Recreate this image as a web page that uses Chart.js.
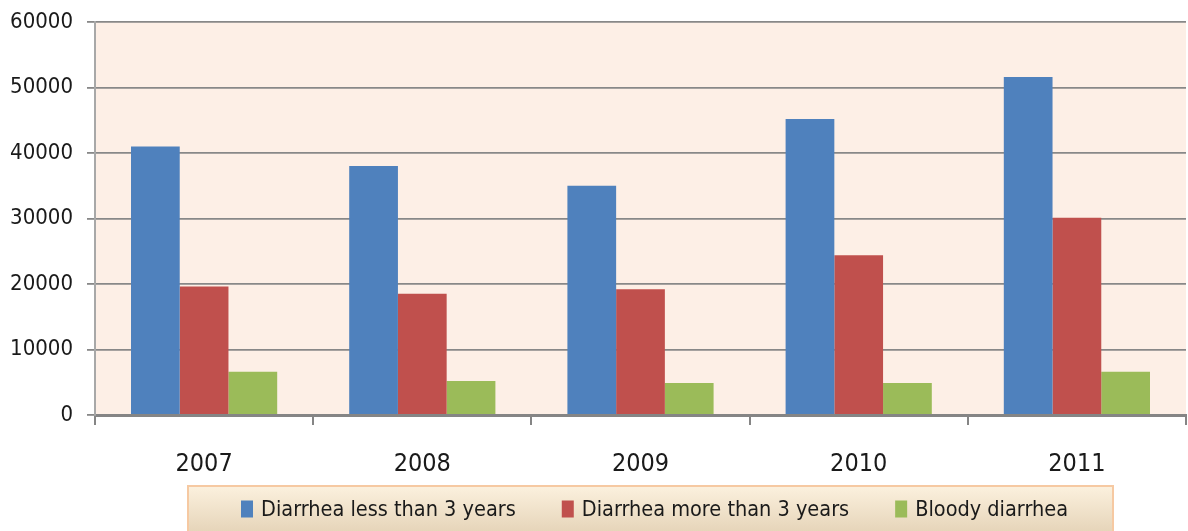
<!DOCTYPE html>
<html>
<head>
<meta charset="utf-8">
<script src="https://cdn.jsdelivr.net/npm/chart.js@4/dist/chart.umd.min.js"></script>
<style>
html,body{margin:0;padding:0;background:#fff;}
#wrap{width:1188px;height:531px;position:relative;}
</style>
</head>
<body>
<div id="wrap"><canvas id="c" width="1188" height="531"></canvas></div>
<script>
const categories = ['2007', '2008', '2009', '2010', '2011'];
const seriesNames = ['Diarrhea less than 3 years', 'Diarrhea more than 3 years', 'Bloody diarrhea'];
const lessThan3 = [41000, 38000, 35000, 45200, 51600];
const moreThan3 = [19600, 18500, 19200, 24400, 30100];
const bloody = [6600, 5200, 4900, 4900, 6600];
const yTicks = [0, 10000, 20000, 30000, 40000, 50000, 60000];
const colors = ['#4F81BD', '#C0504D', '#9BBB59'];

const FONT = '"DejaVu Sans Condensed", "Liberation Sans Narrow", sans-serif';

const bgPlugin = {
  id: 'plotBg',
  beforeDraw(chart) {
    const {ctx, chartArea: a} = chart;
    ctx.save();
    ctx.fillStyle = '#FDEFE6';
    ctx.fillRect(a.left, a.top, a.right - a.left, a.bottom - a.top);
    ctx.restore();
  }
};

const legendPlugin = {
  id: 'customLegend',
  afterDraw(chart) {
    const ctx = chart.ctx;
    ctx.save();
    const bx = 188, by = 486, bw = 925, bh = 60;
    const g = ctx.createLinearGradient(0, by, 0, 531);
    g.addColorStop(0, '#FCF1DE');
    g.addColorStop(1, '#E6D5BA');
    ctx.fillStyle = g;
    ctx.fillRect(bx, by, bw, bh);
    ctx.strokeStyle = '#F6C9A2';
    ctx.lineWidth = 2;
    ctx.strokeRect(bx, by, bw, bh);
    ctx.font = '21.5px ' + FONT;
    ctx.textBaseline = 'middle';
    const boxW = 12, boxH = 17, gapText = 8, gapItem = 46;
    const ds = chart.data.datasets;
    const widths = ds.map(d => boxW + gapText + ctx.measureText(d.label).width);
    const total = widths.reduce((s, w) => s + w, 0) + gapItem * (ds.length - 1);
    let x = 654.5 - total / 2;
    const cy = 509;
    ds.forEach((d, i) => {
      ctx.fillStyle = d.backgroundColor;
      ctx.fillRect(x, cy - boxH / 2, boxW, boxH);
      ctx.fillStyle = '#1a1a1a';
      ctx.fillText(d.label, x + boxW + gapText, cy + 1);
      x += widths[i] + gapItem;
    });
    ctx.restore();
  }
};

new Chart(document.getElementById('c'), {
  type: 'bar',
  data: {
    labels: categories,
    datasets: [
      {label: seriesNames[0], data: lessThan3, backgroundColor: colors[0]},
      {label: seriesNames[1], data: moreThan3, backgroundColor: colors[1]},
      {label: seriesNames[2], data: bloody, backgroundColor: colors[2]}
    ]
  },
  options: {
    responsive: false,
    animation: false,
    devicePixelRatio: 1,
    layout: {padding: {top: 22, left: 0, right: 2, bottom: 45}},
    datasets: {bar: {categoryPercentage: 0.67, barPercentage: 1.0}},
    plugins: {legend: {display: false}, tooltip: {enabled: false}},
    scales: {
      x: {
        grid: {display: true, drawOnChartArea: false, drawTicks: true, offset: true, color: '#858585', lineWidth: 2, tickLength: 10},
        border: {display: true, color: '#858585', width: 3},
        ticks: {color: '#1a1a1a', font: {family: FONT, size: 25}, padding: 24},
        afterFit(scale) { scale.height = 71; }
      },
      y: {
        min: 0, max: 60000,
        afterBuildTicks(scale) { scale.ticks = yTicks.map(v => ({value: v})); },
        grid: {color: '#888888', lineWidth: 1.8, tickLength: 8, drawTicks: true},
        border: {display: true, color: '#a8a8a8', width: 2},
        ticks: {color: '#1a1a1a', font: {family: FONT, size: 22, lineHeight: 0.8}, padding: 14, callback: v => String(v)},
        afterFit(scale) { scale.width = 95; scale.paddingTop = 0; scale.paddingBottom = 0; }
      }
    }
  },
  plugins: [bgPlugin, legendPlugin]
});
</script>
</body>
</html>
